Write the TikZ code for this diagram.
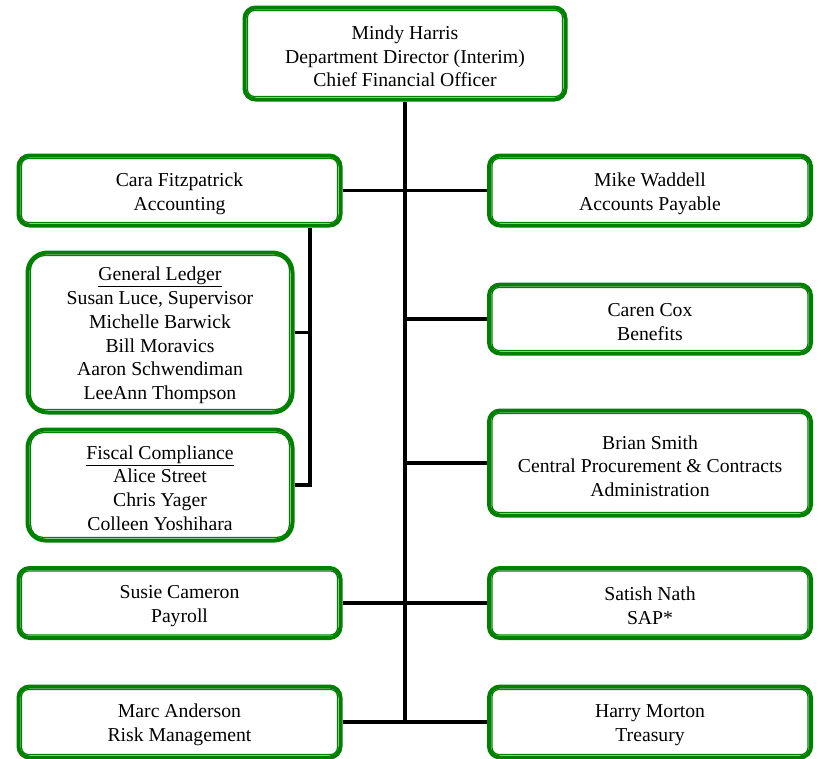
\documentclass[tikz,border=0pt]{standalone}
\usepackage{fontspec}
\setmainfont{Liberation Serif}
\usetikzlibrary{backgrounds}
\definecolor{boxgreen}{RGB}{0,128,0}
\begin{document}
\begin{tikzpicture}[x=1pt,y=-1pt,
  orgbox/.style={draw=boxgreen, line width=4pt, rounded corners=11pt, fill=white, inner sep=0pt},
  smallbox/.style={orgbox, minimum width=322pt, minimum height=70pt},
  label text/.style={inner sep=0pt, align=center, yshift=-3pt, font=\fontsize{19.7}{23.7}\selectfont},
  link/.style={draw=black, line width=3.4pt},
  inner/.style={draw=boxgreen, line width=1.2pt}]
\useasboundingbox (0,0) rectangle (821,758);
\begin{scope}
\clip (0,0) rectangle (821,758);
\coordinate (bot) at (405,721.5);
\coordinate (cv) at (310,228);
% boxes
\node[orgbox, minimum width=321pt, minimum height=92pt] (mindy) at (405,53.5) {};
\node[smallbox] (cara) at (179.5,190.5) {};
\node[smallbox] (mike) at (650,190.5) {};
\node[orgbox, rounded corners=20pt, minimum width=265pt, minimum height=160pt] (gl) at (160,332.5) {};
\node[orgbox, rounded corners=18pt, minimum width=265pt, minimum height=111pt] (fc) at (160,485) {};
\node[smallbox, minimum height=69pt] (caren) at (650,319) {};
\node[smallbox, minimum height=105pt] (brian) at (650,463) {};
\node[smallbox] (susie) at (179.5,603) {};
\node[smallbox] (satish) at (650,603) {};
\node[smallbox, minimum height=71pt] (marc) at (179.5,722) {};
\node[smallbox, minimum height=71pt] (harry) at (650,722) {};
% inner thin borders
\foreach \n/\r in {mindy/7,cara/7,mike/7,caren/7,brian/7,susie/7,satish/7,marc/7,harry/7,gl/15,fc/13}{
  \draw[inner, rounded corners=\r pt] ([xshift=5pt,yshift=-5pt]\n.north west) rectangle ([xshift=-5pt,yshift=5pt]\n.south east);
}
% texts
\node[label text] (mindyT) at (mindy) {Mindy Harris\\Department Director (Interim)\\Chief Financial Officer};
\node[label text] (caraT) at (cara) {Cara Fitzpatrick\\Accounting};
\node[label text] (mikeT) at (mike) {Mike Waddell\\Accounts Payable};
\node[label text] (glT) at (gl) {\underline{General Ledger}\\Susan Luce, Supervisor\\Michelle Barwick\\Bill Moravics\\Aaron Schwendiman\\LeeAnn Thompson};
\node[label text] (fcT) at (fc) {\underline{Fiscal Compliance}\\Alice Street\\Chris Yager\\Colleen Yoshihara};
\node[label text] (carenT) at (caren) {Caren Cox\\Benefits};
\node[label text] (brianT) at (brian) {Brian Smith\\Central Procurement \& Contracts\\Administration};
\node[label text] (susieT) at (susie) {Susie Cameron\\Payroll};
\node[label text] (satishT) at (satish) {Satish Nath\\SAP*};
\node[label text] (marcT) at (marc) {Marc Anderson\\Risk Management};
\node[label text] (harryT) at (harry) {Harry Morton\\Treasury};
% connectors
\begin{scope}[on background layer]
\draw[link] (mindy.south) -- (bot);
\draw[link] (cara.east) -- (mike.west);
\draw[link] (caren.west) -- (caren.west -| bot);
\draw[link] (brian.west) -- (brian.west -| bot);
\draw[link] (susie.east) -- (satish.west);
\draw[link] (marc.east) -- (harry.west);
\draw[link] (cv) |- (fc.east);
\draw[link] (gl.east) -- (gl.east -| cv);
\end{scope}
\end{scope}
\end{tikzpicture}
\end{document}
